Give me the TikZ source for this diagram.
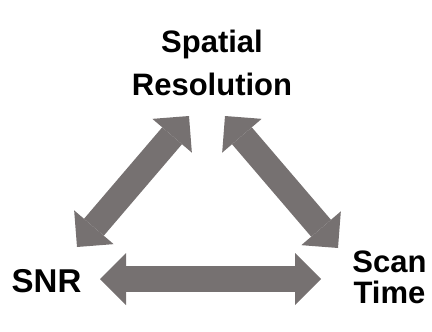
\documentclass[tikz,border=0pt]{standalone}
\usepackage{fontspec}
\setmainfont{Liberation Sans}
\usetikzlibrary{arrows.meta}
\definecolor{arrowgray}{RGB}{118,113,113}
\begin{document}
\begin{tikzpicture}[x=1pt,y=-1pt,
  term/.style={inner sep=0pt, align=center, anchor=base},
  twoway/.style={draw=arrowgray, fill=arrowgray, line width=26pt,
    {Triangle[length=26pt,width=52pt,line width=0pt]}-{Triangle[length=26pt,width=52pt,line width=0pt]}}]
\useasboundingbox (0,0) rectangle (432,332);

% the three competing quantities (base anchor sits on the last line)
\node[term, font=\bfseries\fontsize{31}{43}\selectfont] (res) at (212,95) {Spatial\\Resolution};
\node[term, font=\bfseries\fontsize{33}{33}\selectfont] (snr) at (46.5,292) {SNR};
\node[term, font=\bfseries\fontsize{31}{31}\selectfont] (time) at (389.5,303) {Scan\\Time};

% arrow ends
\coordinate (snrR) at (100,279);
\coordinate (timeL) at (321,279);
\coordinate (snrU) at (77,247);
\coordinate (resL) at (189,116);
\coordinate (resR) at (225,116);
\coordinate (timeU) at (338,248);

% trade-off arrows
\draw[twoway] (snrU) -- (resL);
\draw[twoway] (resR) -- (timeU);
\draw[twoway] (snrR) -- (timeL);
\end{tikzpicture}
\end{document}
